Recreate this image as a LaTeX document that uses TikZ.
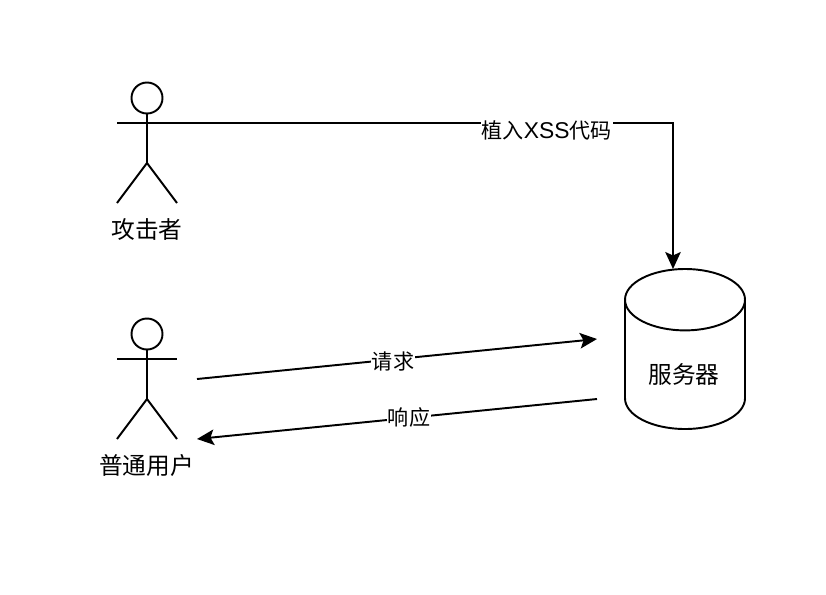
\documentclass[tikz,border=0pt]{standalone}
\usepackage{fontspec}
\setmainfont{Noto Sans CJK SC}
\newfontfamily\latinfont{Liberation Sans}
\usetikzlibrary{arrows.meta,shapes.geometric}
\begin{document}
\begin{tikzpicture}[
    line/.style={line width=1.1pt},
    arr/.style={-{Stealth[length=0.34cm, width=0.31cm, inset=0.07cm]}, line width=1.1pt},
    who/.style={font=\fontsize{13.5}{16}\selectfont, inner sep=0pt},
    lbl/.style={fill=white, inner sep=0.5pt, font=\fontsize{12}{14}\selectfont},
    db/.style={cylinder, shape border rotate=90, aspect=0.85, draw, line width=1.1pt, minimum width=2.4cm, minimum height=3.2cm, inner sep=0pt, anchor=shape center, font=\fontsize{13.7}{16}\selectfont},
    pics/actor/.style={code={
        \node[circle, draw, line width=1.1pt, minimum size=0.62cm, inner sep=0pt] (-head) at (0, 0.5) {};
        \coordinate (-arm) at (0, 0);
        \draw[line] (-0.6, 0) -- (0.6, 0);
        \draw[line] (-head) -- (0, -0.8);
        \draw[line] (-0.6, -1.6) -- (0, -0.8) -- (0.6, -1.6);
    }}
]
\useasboundingbox (0, 0) rectangle (16.52, 11.88);
\pic (atk) at (2.94, 9.42) {actor};
\pic (usr) at (2.94, 4.70) {actor};
\node[who] (atkname) at (2.94, 7.30) {攻击者};
\node[who] (usrname) at (2.93, 2.58) {普通用户};
\node[db] (srv) at (13.7, 4.9) {\phantom{服务器}};
\node[who] (srvname) at (13.68, 4.40) {服务器};
\coordinate (srvtop) at (13.46, 6.50);
\coordinate (reqfrom) at (3.94, 4.30);
\coordinate (reqto) at (11.94, 5.10);
\coordinate (respfrom) at (11.94, 3.90);
\coordinate (respto) at (3.94, 3.10);
\draw[arr] (atk-arm) -| node[lbl, pos=0.38, yshift=-0.14cm] (inject) {植入{\latinfont\fontsize{13}{14}\selectfont XSS}代码} (srvtop);
\draw[arr] (reqfrom) -- node[lbl, pos=0.49, yshift=-0.04cm] (req) {请求} (reqto);
\draw[arr] (respfrom) -- node[lbl, pos=0.47] (resp) {响应} (respto);
\end{tikzpicture}
\end{document}
